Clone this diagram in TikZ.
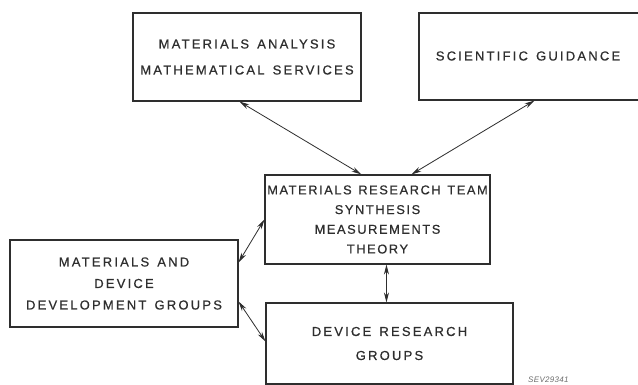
\documentclass[tikz,border=0pt]{standalone}
\usepackage{fontspec}
\setmainfont{Liberation Sans}[LetterSpace=17, WordSpace=1.4, FakeBold=0.6]
\newfontfamily\teamfont{Liberation Sans}[LetterSpace=12.5, WordSpace=1.3, FakeBold=0.6]
\newfontfamily\notefont{Liberation Sans}[LetterSpace=4]
\usetikzlibrary{arrows.meta}
\definecolor{ink}{HTML}{2E2E2E}
\tikzset{
  box/.style={draw=ink, line width=1.1pt, text=ink, inner sep=0pt, align=center, anchor=center},
  link/.style={draw=ink, line width=0.8pt, {Stealth[length=10pt,width=5pt]}-{Stealth[length=10pt,width=5pt]}}
}
\begin{document}
\begin{tikzpicture}[x=1pt,y=-1pt]
\useasboundingbox (0,0) rectangle (638,385);
\clip (0,0) rectangle (638,385);
\fill[white] (0,0) rectangle (638,385);
\node[box, minimum width=228pt, minimum height=88pt, font=\fontsize{13}{26}\selectfont] (A) at (247,57)
  {MATERIALS ANALYSIS\\MATHEMATICAL SERVICES};
\node[box, minimum width=240pt, minimum height=87pt] (B) at (539,56.5) {};
\node[text=ink, font=\fontsize{13}{26}\selectfont] (Bt) at (528,56) {SCIENTIFIC GUIDANCE};
\node[box, minimum width=225pt, minimum height=89pt, font=\teamfont\fontsize{12.8}{19.7}\selectfont] (C) at (377.5,219.5)
  {MATERIALS RESEARCH TEAM\\SYNTHESIS\\MEASUREMENTS\\THEORY};
\node[box, minimum width=228pt, minimum height=87pt, font=\fontsize{13}{21.5}\selectfont] (D) at (124,283.5)
  {MATERIALS AND\\DEVICE\\DEVELOPMENT GROUPS};
\node[box, minimum width=247pt, minimum height=81pt, font=\fontsize{13}{24}\selectfont] (E) at (389.5,343.5)
  {DEVICE RESEARCH\\GROUPS};
\node[text=ink!70, font=\notefont\itshape\fontsize{8}{9}\selectfont, anchor=base west, inner sep=0pt] (note) at (528,382) {SEV29341};
\draw[link] ([xshift=107pt]A.south west) -- ([xshift=97pt]C.north west);
\draw[link] ([xshift=116pt]B.south west) -- ([xshift=147pt]C.north west);
\draw[link] ([yshift=-23pt]D.north east) -- ([yshift=-45pt]C.north west);
\draw[link] ([yshift=-62pt]D.north east) -- ([yshift=-39pt]E.north west);
\draw[link] ([xshift=122pt]C.south west) -- ([xshift=121pt]E.north west);
\end{tikzpicture}
\end{document}
